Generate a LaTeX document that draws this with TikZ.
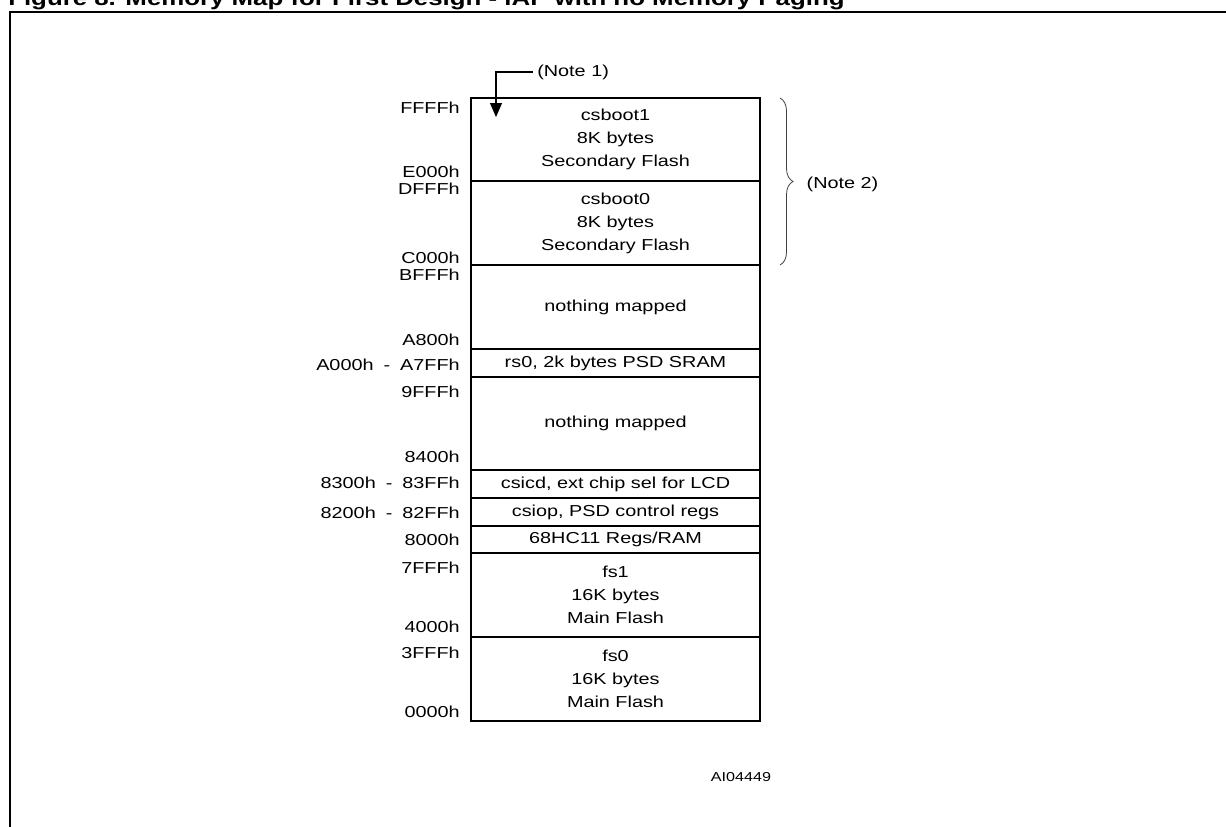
\documentclass[tikz,border=0pt]{standalone}
\usepackage{fontspec}
\setmainfont{Liberation Sans}[FakeStretch=1.25]
\usetikzlibrary{positioning,arrows.meta,decorations.pathreplacing}

\newcommand{\rng}[2]{#1\hspace{7.5pt}-\hspace{7.5pt}#2}

\begin{document}
\begin{tikzpicture}[x=0.75pt,y=-0.75pt,
        every node/.style={font=\fontsize{11.9}{17.25}\selectfont},
        blk/.style={draw, line width=0.8pt, minimum width=216.75pt, outer sep=0pt, inner sep=0pt, align=center},
        addr/.style={anchor=east, inner sep=0pt},
        frame/.style={line width=1.6pt}]
        \useasboundingbox (0,0) rectangle (1226,826);
        \clip (0,0) rectangle (1226,826);

        \node[anchor=base west, inner sep=0pt, font=\bfseries\fontsize{15.5}{18}\selectfont] (title) at (8,5.5) {Figure 8. Memory Map for First Design - iAP with no Memory Paging};
        \draw[frame] (10,12) rectangle (1240,840);

        % memory blocks, top to bottom
        \node[blk, minimum height=62.25pt] (cs1) at (615.5,139.5) {csboot1\\8K bytes\\Secondary Flash};
        \node[blk, minimum height=63pt, below=0pt of cs1] (cs0) {csboot0\\8K bytes\\Secondary Flash};
        \node[blk, minimum height=63pt, below=0pt of cs0] (nm1) {nothing mapped};
        \node[blk, minimum height=21pt, below=0pt of nm1] (rs0) {rs0, 2k bytes PSD SRAM};
        \node[blk, minimum height=69.75pt, below=0pt of rs0] (nm2) {nothing mapped};
        \node[blk, minimum height=21pt, below=0pt of nm2] (csicd) {csicd, ext chip sel for LCD};
        \node[blk, minimum height=21pt, below=0pt of csicd] (csiop) {csiop, PSD control regs};
        \node[blk, minimum height=20.25pt, below=0pt of csiop] (regs) {68HC11 Regs/RAM};
        \node[blk, minimum height=63pt, below=0pt of regs] (fs1) {fs1\\16K bytes\\Main Flash};
        \node[blk, minimum height=63pt, below=0pt of fs1] (fs0) {fs0\\16K bytes\\Main Flash};

        % addresses
        \node[addr] (aFFFF) at (460,108) {FFFFh};
        \node[addr] (aE000) at (460,172) {E000h};
        \node[addr] (aDFFF) at (460,189) {DFFFh};
        \node[addr] (aC000) at (460,258) {C000h};
        \node[addr] (aBFFF) at (460,275) {BFFFh};
        \node[addr] (aA800) at (460,340) {A800h};
        \node[addr] (aA000) at (460,365) {\rng{A000h}{A7FFh}};
        \node[addr] (a9FFF) at (460,392) {9FFFh};
        \node[addr] (a8400) at (460,457) {8400h};
        \node[addr] (a8300) at (460,483) {\rng{8300h}{83FFh}};
        \node[addr] (a8200) at (460,513) {\rng{8200h}{82FFh}};
        \node[addr] (a8000) at (460,540) {8000h};
        \node[addr] (a7FFF) at (460,568) {7FFFh};
        \node[addr] (a4000) at (460,627) {4000h};
        \node[addr] (a3FFF) at (460,653) {3FFFh};
        \node[addr] (a0000) at (460,712) {0000h};

        % notes
        \node[anchor=west, inner sep=3pt] (note1) at (533,72) {(Note 1)};
        \coordinate (n1tip) at (496,117);
        \draw[-{Triangle[length=10.5pt,width=9pt]}, line width=0.8pt] (note1.west) -| (n1tip);

        \draw[decorate, decoration={brace, amplitude=9.75pt}, line width=0.6pt, black!75]
            ([xshift=15pt]cs1.north east) -- ([xshift=15pt]cs0.south east);
        \node[anchor=west] (note2) at (802,184) {(Note 2)};

        \node[font=\fontsize{9.7}{12}\selectfont] (fig) at (741,777) {AI04449};
    \end{tikzpicture}
\end{document}
